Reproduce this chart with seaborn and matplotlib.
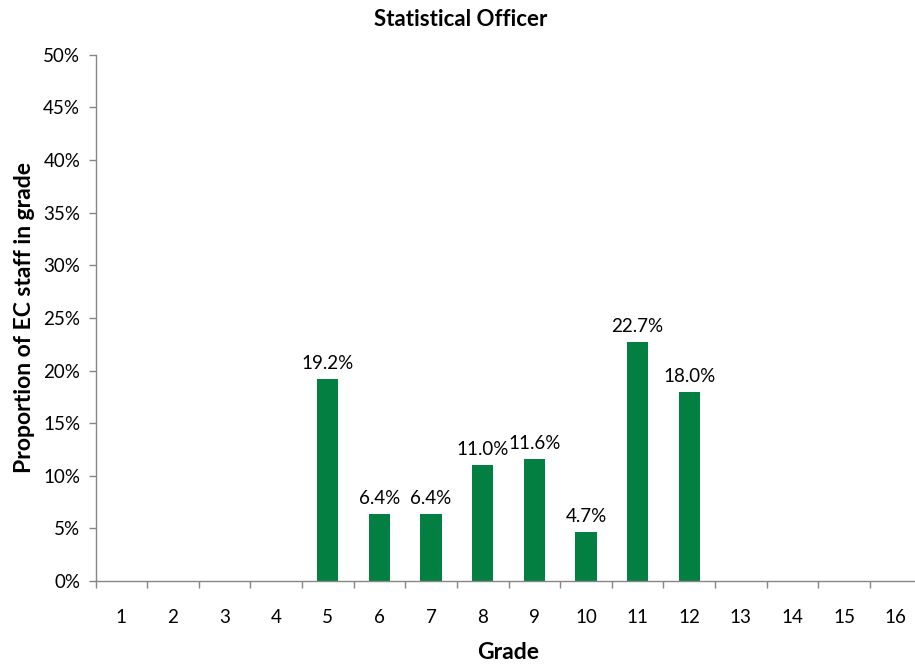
import matplotlib
matplotlib.use("Agg")
import matplotlib.pyplot as plt
import seaborn as sns
import pandas as pd
from matplotlib.ticker import FixedLocator, PercentFormatter

# Share of Statistical Officers by grade (percent)
grades = [str(g) for g in range(1, 17)]
shares = [0, 0, 0, 0, 19.2, 6.4, 6.4, 11.0, 11.6, 4.7, 22.7, 18.0, 0, 0, 0, 0]
y_ticks = [0, 5, 10, 15, 20, 25, 30, 35, 40, 45, 50]

sns.set_theme(style="white")
plt.rcParams["font.family"] = ["Lato", "DejaVu Sans"]

df = pd.DataFrame({"Grade": grades, "Share": shares})

fig = plt.figure(figsize=(9.15, 6.66), dpi=100)
ax = fig.add_axes([0.1044, 0.1276, 0.9027, 0.790])

sns.barplot(data=df, x="Grade", y="Share", order=grades, color="#047F42",
            saturation=1, width=0.41, linewidth=0, ax=ax)

# value labels above each non-empty bar
for patch, val in zip(ax.patches, shares):
    if val > 0:
        ax.annotate(f"{val:.1f}%",
                    (patch.get_x() + patch.get_width() / 2, patch.get_height()),
                    xytext=(0, 5), textcoords="offset points",
                    ha="center", va="bottom", fontsize=13.5, color="black")

ax.set_xlim(-0.5, len(grades) - 0.5)
ax.set_ylim(0, 50)
ax.set_yticks(y_ticks)
ax.yaxis.set_major_formatter(PercentFormatter(decimals=0))

# category labels centred, tick marks between categories
ax.set_xticks(range(len(grades)))
ax.set_xticklabels(grades)
ax.xaxis.set_minor_locator(FixedLocator([i - 0.5 for i in range(len(grades) + 1)]))
ax.tick_params(axis="x", which="major", length=0, pad=20, labelsize=13.5,
               labelcolor="black")
ax.tick_params(axis="x", which="minor", length=5, width=1, color="#868686",
               direction="out", bottom=True)
ax.tick_params(axis="y", which="major", length=5, width=1, color="#868686",
               direction="out", left=True, pad=6, labelsize=13.5,
               labelcolor="black")

for side in ["top", "right"]:
    ax.spines[side].set_visible(False)
for side in ["left", "bottom"]:
    ax.spines[side].set_color("#868686")
    ax.spines[side].set_linewidth(1)

ax.set_xlabel("Grade", fontsize=16.5, fontweight="bold", labelpad=12,
              color="black")
ax.set_ylabel("Proportion of EC staff in grade", fontsize=16.5,
              fontweight="bold", labelpad=6, color="black")
fig.suptitle("Statistical Officer", x=0.503, y=0.97, va="center",
             fontsize=16, fontweight="bold", color="black")

fig.savefig("out.png", dpi=100)
